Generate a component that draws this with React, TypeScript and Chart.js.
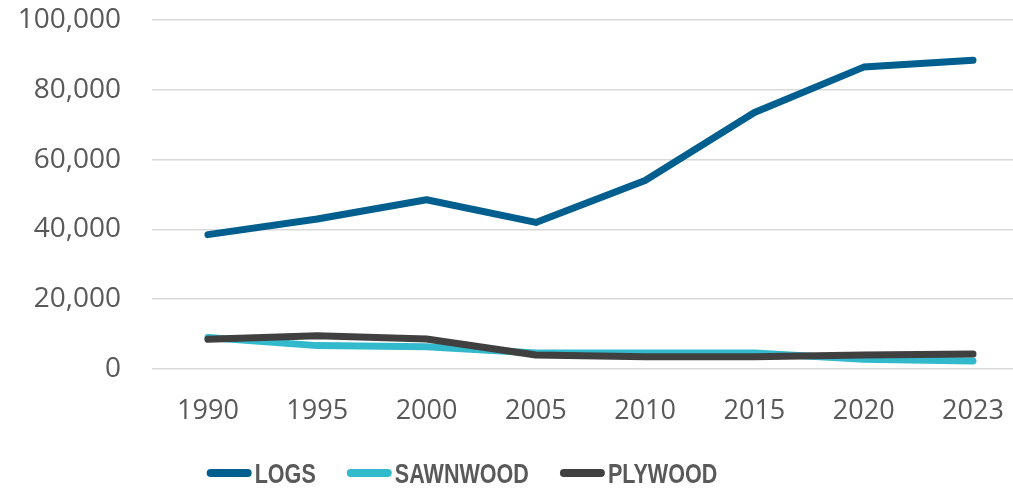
import React, { useEffect, useRef } from "react";
import { Chart, registerables } from "chart.js";

Chart.register(...registerables);

const categories = ["1990", "1995", "2000", "2005", "2010", "2015", "2020", "2023"];
const logs = [38500, 43000, 48500, 42000, 54000, 73500, 86500, 88500];
const sawnwood = [9000, 6700, 6400, 4600, 4600, 4600, 2800, 2300];
const plywood = [8500, 9500, 8600, 4000, 3500, 3500, 4000, 4300];
const seriesNames = ["LOGS", "SAWNWOOD", "PLYWOOD"];
const seriesColors = ["#005F8F", "#33B9CC", "#404040"];
const yTicks = [0, 20000, 40000, 60000, 80000, 100000];

const TICK_FONT = "'Open Sans', 'Liberation Sans', sans-serif";
const LEGEND_FONT = "'Liberation Sans', Arial, sans-serif";

const legendPlugin = {
  id: "customLegend",
  afterDraw(chart: any) {
    const ctx = chart.ctx;
    const ds = chart.data.datasets;
    ctx.save();
    ctx.font = "bold 28px " + LEGEND_FONT;
    const condense = 0.77;
    const lineLen = 37;
    const lw = 8;
    const capExtra = lw / 2;
    const gapLineText = 3 + capExtra;
    const gapItems = 27 + capExtra;
    const widths = ds.map((d: any) => ctx.measureText(d.label).width * condense);
    let total = 0;
    ds.forEach((d: any, i: number) => {
      total += capExtra + lineLen + gapLineText + widths[i];
      if (i < ds.length - 1) total += gapItems;
    });
    const centerX = 462;
    const y = 473;
    let x = centerX - total / 2 + capExtra;
    ds.forEach((d: any, i: number) => {
      ctx.beginPath();
      ctx.strokeStyle = d.borderColor;
      ctx.lineWidth = lw;
      ctx.lineCap = "round";
      ctx.moveTo(x, y);
      ctx.lineTo(x + lineLen, y);
      ctx.stroke();
      x += lineLen + gapLineText;
      ctx.fillStyle = "#595959";
      ctx.textBaseline = "alphabetic";
      ctx.textAlign = "left";
      ctx.fillText(d.label, x, 483, widths[i]);
      x += widths[i] + gapItems + capExtra;
    });
    ctx.restore();
  },
};

export default function App() {
  const ref = useRef<HTMLCanvasElement | null>(null);

  useEffect(() => {
    document.body.style.margin = "0";
    const canvas = ref.current;
    if (!canvas) return;
    const seriesData = [logs, sawnwood, plywood];
    const orders = [1, 2, 0];
    const chart = new Chart(canvas, {
      type: "line",
      data: {
        datasets: seriesData.map((vals, si) => ({
          label: seriesNames[si],
          data: vals.map((v, i) => ({ x: i, y: v })),
          borderColor: seriesColors[si],
          backgroundColor: seriesColors[si],
          borderWidth: 7,
          borderCapStyle: "round",
          borderJoinStyle: "round",
          pointRadius: 0,
          pointHoverRadius: 0,
          tension: 0,
          fill: false,
          order: orders[si],
        })),
      },
      options: {
        animation: false,
        responsive: false,
        maintainAspectRatio: false,
        layout: { padding: { top: 20, right: 0, bottom: 60, left: 0 } },
        plugins: {
          legend: { display: false },
          tooltip: { enabled: false },
        },
        scales: {
          x: {
            type: "linear",
            min: -0.512,
            max: 7.366,
            afterBuildTicks(scale: any) {
              scale.ticks = categories.map((_, i) => ({ value: i }));
            },
            afterFit(scale: any) {
              scale.height = 59;
            },
            grid: { display: false, drawTicks: true, tickLength: 26, tickColor: "rgba(0,0,0,0)" },
            border: { display: false },
            ticks: {
              autoSkip: false,
              maxRotation: 0,
              padding: 0,
              color: "#595959",
              font: { family: TICK_FONT, size: 27 },
              callback: (v: any) => categories[v as number] ?? "",
            },
          },
          y: {
            type: "linear",
            min: 0,
            max: 100000,
            afterBuildTicks(scale: any) {
              scale.ticks = yTicks.map((v) => ({ value: v }));
            },
            afterFit(scale: any) {
              scale.width = 152;
            },
            grid: { color: "#d9d9d9", lineWidth: 1.5, drawTicks: true, tickLength: 31, tickColor: "rgba(0,0,0,0)" },
            border: { display: false },
            ticks: {
              padding: 0,
              color: "#595959",
              font: { family: TICK_FONT, size: 28 },
              callback: (v: any) => Number(v).toLocaleString("en-US"),
            },
          },
        },
      },
      plugins: [legendPlugin],
    } as any);
    return () => chart.destroy();
  }, []);

  return (
    <div style={{ width: 1013, height: 488, position: "relative" }}>
      <canvas ref={ref} width={1013} height={488} />
    </div>
  );
}
